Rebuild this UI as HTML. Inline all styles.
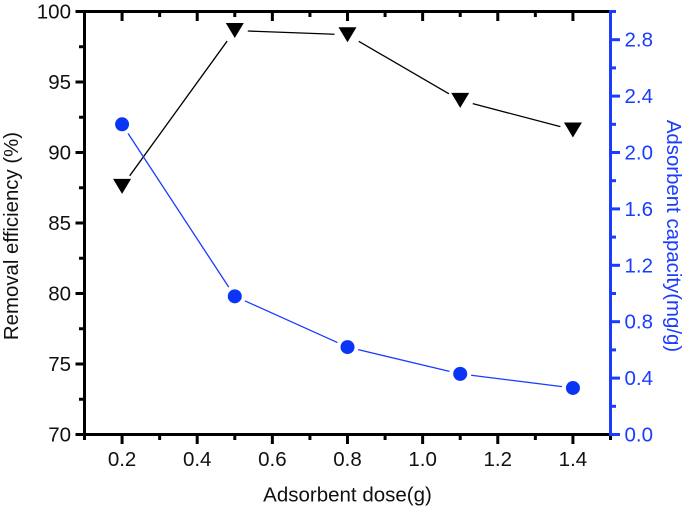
<!DOCTYPE html>
<html><head><meta charset="utf-8"><style>
html,body{margin:0;padding:0;background:#fff}
svg{display:block}
text{font-family:"Liberation Sans",sans-serif}
</style></head><body>
<svg id="chart" xmlns="http://www.w3.org/2000/svg" width="685" height="508" viewBox="0 0 685 508"></svg>
<script>
const doses = [0.2, 0.5, 0.8, 1.1, 1.4];
const removalEfficiency = [87.6, 98.65, 98.35, 93.7, 91.6];
const adsorbentCapacity = [2.2, 0.98, 0.62, 0.43, 0.33];
const xTicks = [0.2, 0.4, 0.6, 0.8, 1.0, 1.2, 1.4];
const xMinorTicks = [0.1, 0.3, 0.5, 0.7, 0.9, 1.1, 1.3, 1.5];
const leftTicks = [70, 75, 80, 85, 90, 95, 100];
const leftMinorTicks = [72.5, 77.5, 82.5, 87.5, 92.5, 97.5];
const rightTicks = [0.0, 0.4, 0.8, 1.2, 1.6, 2.0, 2.4, 2.8];
const rightMinorTicks = [0.2, 0.6, 1.0, 1.4, 1.8, 2.2, 2.6, 3.0];

const BLUE = '#1a3cff';
const svg = document.getElementById('chart');
const NS = 'http://www.w3.org/2000/svg';
const L = 84.5, R = 610.5, T = 11.5, B = 434.5;
const xScale = v => L + (v - 0.1) / 1.4 * (R - L);
const yLeft = v => B - (v - 70) / 30 * (B - T);
const yRight = v => B - v / 3 * (B - T);

function make(tag, attrs, parent) {
  const el = document.createElementNS(NS, tag);
  for (const k in attrs) el.setAttribute(k, attrs[k]);
  (parent || svg).appendChild(el);
  return el;
}
function seg(x1, y1, x2, y2, color, width, name) {
  const el = make('line', {x1, y1, x2, y2, stroke: color, 'stroke-width': width});
  
  
  return el;
}
function label(x, y, str, color, anchor, name) {
  const el = make('text', {x, y, fill: color, 'font-size': 20.5, 'text-anchor': anchor});
  el.textContent = str;
  
  
  return el;
}
function gappedSeries(xs, ys, color, gap, name) {
  for (let i = 0; i < xs.length - 1; i++) {
    const x1 = xScale(xs[i]), y1 = ys(i), x2 = xScale(xs[i + 1]), y2 = ys(i + 1);
    const d = Math.hypot(x2 - x1, y2 - y1), ux = (x2 - x1) / d, uy = (y2 - y1) / d;
    seg(x1 + ux * gap, y1 + uy * gap, x2 - ux * gap, y2 - uy * gap, color, 1.3, name);
  }
}

// Top and bottom axes
seg(L - 9, T, R, T, '#000', 3, 'top-axis-line');
seg(L - 9, B, R, B, '#000', 3, 'x-axis-line');
// X ticks
xTicks.forEach(v => {
  const x = xScale(v);
  seg(x, B, x, B + 9.5, '#000', 3, 'x-major-tick');
  seg(x, T, x, T + 9.5, '#000', 3, 'top-major-tick');
  label(x, 466, v.toFixed(1), '#111', 'middle', 'x-tick-label');
});
xMinorTicks.forEach(v => {
  const x = xScale(v);
  seg(x, B, x, B + 5.5, '#000', 3, 'x-minor-tick');
  if (v > 0.1 && v < 1.5) seg(x, T, x, T + 5.5, '#000', 3, 'top-minor-tick');
});
// Left axis
seg(L, T - 1.5, L, B + 1.5, '#000', 3, 'left-axis-line');
leftTicks.forEach(v => {
  const y = yLeft(v);
  seg(L - 9, y, L, y, '#000', 3, 'left-major-tick');
  label(71, y + 7, String(v), '#111', 'end', 'left-tick-label');
});
leftMinorTicks.forEach(v => {
  const y = yLeft(v);
  seg(L - 5.5, y, L, y, '#000', 3, 'left-minor-tick');
});
// Right axis
seg(R, T - 1.5, R, B + 1.5, BLUE, 3, 'right-axis-line');
rightTicks.forEach(v => {
  const y = yRight(v);
  seg(R, y, R + 9.5, y, BLUE, 3, 'right-major-tick');
  label(624.5, y + 7, v.toFixed(1), BLUE, 'start', 'right-tick-label');
});
rightMinorTicks.forEach(v => {
  const y = yRight(v);
  seg(R, y, R + 5.5, y, BLUE, 3, 'right-minor-tick');
});
// Series
gappedSeries(doses, i => yLeft(removalEfficiency[i]), '#000', 13, 'removal-efficiency-line');
gappedSeries(doses, i => yRight(adsorbentCapacity[i]), BLUE, 11, 'adsorbent-capacity-line');
doses.forEach((d, i) => {
  const x = xScale(d), y = yLeft(removalEfficiency[i]);
  const tri = make('polygon', {points: `${x - 9},${y - 7.5} ${x + 9},${y - 7.5} ${x},${y + 7.5}`, fill: '#000'});
  
  
  const c = make('circle', {cx: x, cy: yRight(adsorbentCapacity[i]), r: 7, fill: '#0b35f5'});
  
  
});
// Titles
const xt = label(347.5, 501.5, 'Adsorbent dose(g)', '#111', 'middle', 'x-axis-title');
xt.setAttribute('font-size', '20.5');
const lt = label(0, 0, 'Removal efficiency (%)', '#111', 'middle', 'left-axis-title');
lt.setAttribute('font-size', '20.4');
lt.setAttribute('transform', 'translate(18 236) rotate(-90)');
const rt = label(0, 0, 'Adsorbent capacity(mg/g)', BLUE, 'middle', 'right-axis-title');
rt.setAttribute('font-size', '20.4');
rt.setAttribute('transform', 'translate(667 236) rotate(90)');
</script>
</body></html>
